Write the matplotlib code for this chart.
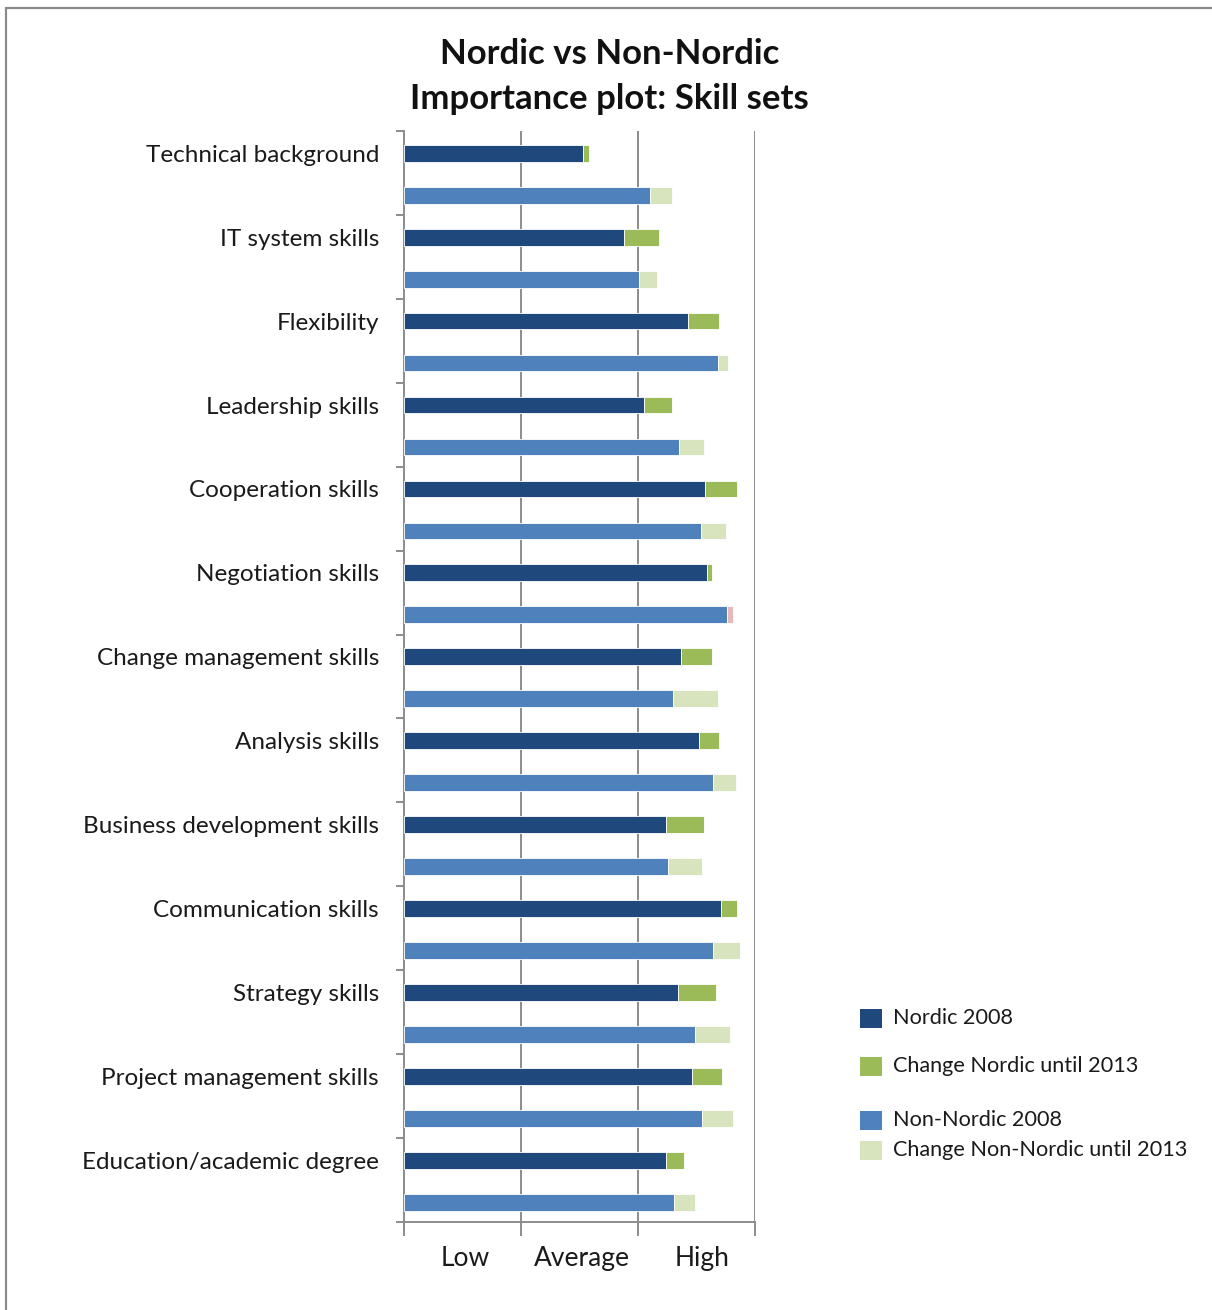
import matplotlib
matplotlib.use("Agg")
import matplotlib.pyplot as plt
from matplotlib.patches import Rectangle
import numpy as np

plt.rcParams['font.family'] = ['Lato', 'DejaVu Sans']

skills = [
    "Technical background",
    "IT system skills",
    "Flexibility",
    "Leadership skills",
    "Cooperation skills",
    "Negotiation skills",
    "Change management skills",
    "Analysis skills",
    "Business development skills",
    "Communication skills",
    "Strategy skills",
    "Project management skills",
    "Education/academic degree",
]

nordic_2008 = [1.53, 1.88, 2.43, 2.05, 2.57, 2.59, 2.37, 2.52, 2.24, 2.71, 2.34, 2.46, 2.24]
nordic_change = [0.05, 0.30, 0.26, 0.24, 0.28, 0.04, 0.26, 0.17, 0.32, 0.14, 0.33, 0.26, 0.15]
non_nordic_2008 = [2.10, 2.01, 2.68, 2.35, 2.54, 2.81, 2.30, 2.64, 2.26, 2.64, 2.49, 2.55, 2.31]
non_nordic_change = [0.19, 0.15, 0.09, 0.21, 0.21, -0.05, 0.38, 0.20, 0.29, 0.23, 0.30, 0.26, 0.18]

level_labels = ["Low", "Average", "High"]

c_nordic = "#1F497D"
c_nordic_chg = "#9BBB59"
c_non = "#4F81BD"
c_non_chg = "#D7E4BD"
c_drop = "#E6B9B8"

fig = plt.figure(figsize=(12.12, 13.10), dpi=100)
ax = fig.add_axes([404 / 1212, 1 - 1222 / 1310, (755 - 404) / 1212, (1222 - 131) / 1310])

n = len(skills)
idx = np.arange(n)
y_nordic = idx + 0.265
y_non = idx + 0.765
h = 0.2

nordic_2008 = np.array(nordic_2008)
nordic_change = np.array(nordic_change)
non_nordic_2008 = np.array(non_nordic_2008)
non_nordic_change = np.array(non_nordic_change)

ax.barh(y_nordic, nordic_2008, height=h, color=c_nordic, edgecolor="white", linewidth=0.6, zorder=3)
ax.barh(y_nordic, nordic_change, left=nordic_2008, height=h, color=c_nordic_chg,
        edgecolor="white", linewidth=0.6, zorder=3)

# Non-Nordic: a decrease is shown as a pink segment trimmed off the 2008 bar
non_base = np.where(non_nordic_change < 0, non_nordic_2008 + non_nordic_change, non_nordic_2008)
non_seg = np.abs(non_nordic_change)
seg_colors = [c_drop if c < 0 else c_non_chg for c in non_nordic_change]
ax.barh(y_non, non_base, height=h, color=c_non, edgecolor="white", linewidth=0.6, zorder=3)
ax.barh(y_non, non_seg, left=non_base, height=h, color=seg_colors,
        edgecolor="white", linewidth=0.6, zorder=3)

ax.set_xlim(0, 3)
ax.set_ylim(n, 0)

axis_gray = "#8C8C8C"
for x in (1, 2, 3):
    ax.axvline(x, color=axis_gray, linewidth=1.4, zorder=1)

for side in ("top", "right"):
    ax.spines[side].set_visible(False)
for side in ("left", "bottom"):
    ax.spines[side].set_color(axis_gray)
    ax.spines[side].set_linewidth(1.4)

text_col = "#1a1a1a"

# y axis: labels on the Nordic rows, tick marks at category boundaries
ax.set_yticks(y_nordic)
ax.set_yticklabels(skills, fontsize=17.5, color=text_col)
ax.tick_params(axis="y", which="major", length=0, pad=18)
ax.set_yticks(np.arange(n + 1), minor=True)
ax.tick_params(axis="y", which="minor", length=6, width=1.4, color=axis_gray, direction="out")

# x axis: tick marks at the level boundaries, labels between them
ax.set_xticks([0, 1, 2, 3])
ax.set_xticklabels(["", "", "", ""])
ax.tick_params(axis="x", which="major", length=10, width=1.4, color=axis_gray, direction="out")
ax.set_xticks([0.52, 1.52, 2.55], minor=True)
ax.set_xticklabels(level_labels, minor=True, fontsize=19, color=text_col)
ax.tick_params(axis="x", which="minor", length=0, pad=17)

fig.text(0.503, 1 - 54 / 1310, "Nordic vs Non-Nordic", ha="center", va="center",
         fontsize=25, fontweight="bold", color="#111111")
fig.text(0.503, 1 - 99 / 1310, "Importance plot: Skill sets", ha="center", va="center",
         fontsize=25, fontweight="bold", color="#111111")

# legend drawn on the figure with its own row spacing
legend_rows = [
    (1018, c_nordic, "Nordic 2008"),
    (1066, c_nordic_chg, "Change Nordic until 2013"),
    (1120, c_non, "Non-Nordic 2008"),
    (1150, c_non_chg, "Change Non-Nordic until 2013"),
]
for yc, col, lab in legend_rows:
    fig.add_artist(Rectangle((860 / 1212, 1 - (yc + 10) / 1310), 22 / 1212, 19 / 1310,
                             transform=fig.transFigure, facecolor=col, edgecolor="none"))
    fig.text(893 / 1212, 1 - yc / 1310, lab, ha="left", va="center",
             fontsize=15.6, color=text_col)

# outer frame
fig.add_artist(Rectangle((6 / 1212, -0.05), 1.2, 1.05 - 8 / 1310, transform=fig.transFigure,
                         facecolor="none", edgecolor="#8A8A8A", linewidth=1.6))

fig.savefig("out.png", dpi=100, facecolor="white")
